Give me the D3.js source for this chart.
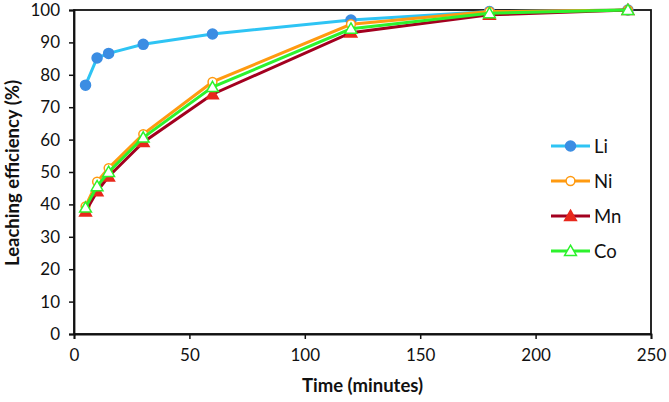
<!DOCTYPE html>
<html><head><meta charset="utf-8">
<script src="https://cdn.jsdelivr.net/npm/d3@7"></script>
<style>body{margin:0;background:#fff}svg{display:block}</style>
</head><body><svg id="c" width="669" height="402"></svg>
<script>
const times = [5, 10, 15, 30, 60, 120, 180, 240];
const li = [76.8, 85.2, 86.6, 89.4, 92.6, 96.9, 99.5, 100];
const ni = [39.4, 47.0, 51.2, 61.7, 77.8, 95.6, 99.5, 100];
const mn = [37.8, 44.0, 48.6, 59.2, 74.0, 93.0, 98.5, 100];
const co = [39.0, 45.6, 50.0, 60.6, 76.2, 94.2, 99.0, 100];
const xTicks = [0, 50, 100, 150, 200, 250];
const yTicks = [0, 10, 20, 30, 40, 50, 60, 70, 80, 90, 100];
const seriesNames = ["Li", "Ni", "Mn", "Co"];

const series = [
  {name: seriesNames[0], values: li, line: "#2ec4f4", marker: "circle", fill: "#3b8de3", stroke: "#3b8de3"},
  {name: seriesNames[1], values: ni, line: "#ff9a10", marker: "circle", fill: "#ffffff", stroke: "#ff9a10"},
  {name: seriesNames[2], values: mn, line: "#a3001f", marker: "triangle", fill: "#e8281c", stroke: "#e8281c"},
  {name: seriesNames[3], values: co, line: "#2df22d", marker: "triangle", fill: "#ffffff", stroke: "#2df22d"}
];

const L = 74, R = 651, T = 10, B = 334;
const svg = d3.select("#c");
const x = d3.scaleLinear().domain([0, 250]).range([L, R]);
const y = d3.scaleLinear().domain([0, 100]).range([B, T]);
const font = "Lato, 'Open Sans', sans-serif";

// frame
svg.append("rect").attr("x", L).attr("y", T).attr("width", R - L).attr("height", B - T)
  .attr("fill", "none").attr("stroke", "#111").attr("stroke-width", 1.8);

const xa = svg.append("g").attr("transform", `translate(0,${B})`)
  .call(d3.axisBottom(x).tickValues(xTicks).tickSize(5).tickPadding(10));
const ya = svg.append("g").attr("transform", `translate(${L},0)`)
  .call(d3.axisLeft(y).tickValues(yTicks).tickSize(5).tickPadding(9));
[xa, ya].forEach(a => {
  a.select(".domain").attr("stroke", "#111").attr("stroke-width", 1.8);
  a.selectAll(".tick line").attr("stroke", "#111").attr("stroke-width", 1.5);
  a.selectAll("text").attr("font-family", font).attr("font-size", 17).attr("fill", "#111");
});

svg.append("text").attr("x", (L + R) / 2).attr("y", 392).attr("text-anchor", "middle")
  .attr("font-family", font).attr("font-weight", "bold").attr("font-size", 18.5).attr("fill", "#111")
  .text("Time (minutes)");
svg.append("text").attr("transform", `translate(19,${(T + B) / 2 + 1}) rotate(-90)`).attr("text-anchor", "middle")
  .attr("font-family", font).attr("font-weight", "bold").attr("font-size", 18.5).attr("fill", "#111")
  .text("Leaching efficiency (%)");

const line = d3.line().x((d, i) => x(times[i])).y(d => y(d));
const tri = d3.symbol().type(d3.symbolTriangle).size(60);

function marker(g, s, cx, cy) {
  if (s.marker === "circle") {
    g.append("circle").attr("cx", cx).attr("cy", cy).attr("r", s.fill === "#ffffff" ? 4.4 : 5)
      .attr("fill", s.fill).attr("stroke", s.stroke).attr("stroke-width", 1.5);
  } else {
    g.append("path").attr("d", tri).attr("transform", `translate(${cx},${cy + 1})`)
      .attr("fill", s.fill).attr("stroke", s.stroke).attr("stroke-width", 1.5);
  }
}

series.forEach(s => {
  const g = svg.append("g");
  g.append("path").datum(s.values).attr("d", line).attr("fill", "none")
    .attr("stroke", s.line).attr("stroke-width", 3);
  s.values.forEach((v, i) => marker(g, s, x(times[i]), y(v)));
});

// legend
const ly0 = 146, ldy = 35;
series.forEach((s, i) => {
  const g = svg.append("g");
  const yy = ly0 + i * ldy;
  g.append("line").attr("x1", 551).attr("x2", 590).attr("y1", yy).attr("y2", yy)
    .attr("stroke", s.line).attr("stroke-width", 3);
  marker(g, s, 570.5, yy);
  g.append("text").attr("x", 594).attr("y", yy + 6.5).attr("font-family", font)
    .attr("font-size", 18.5).attr("fill", "#111").text(s.name);
});
</script></body></html>
